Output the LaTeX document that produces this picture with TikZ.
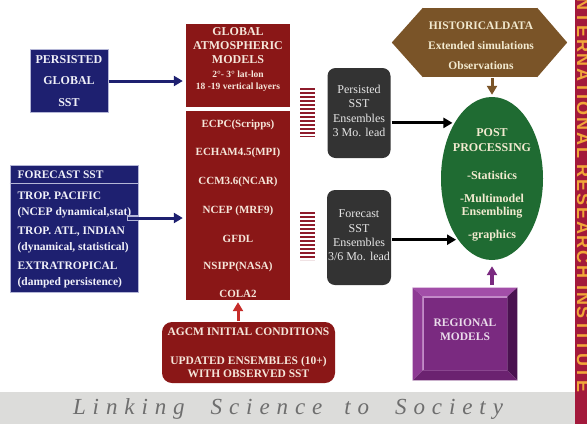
\documentclass[tikz,border=0pt]{standalone}
\usepackage{fontspec}
\setmainfont{Liberation Serif}
\newfontfamily\barfont[LetterSpace=10]{Liberation Sans}
\newfontfamily\tagfont[LetterSpace=30]{Liberation Serif}
\usetikzlibrary{arrows.meta,shapes.geometric}

\definecolor{navyfill}{HTML}{1E2070}
\definecolor{navyedge}{HTML}{B4B6D6}
\definecolor{navytext}{HTML}{F0F0F8}
\definecolor{modelred}{HTML}{8A1717}
\definecolor{redtext}{HTML}{F5E6DA}
\definecolor{hatchred}{HTML}{8E1B2B}
\definecolor{ensgray}{HTML}{333333}
\definecolor{enstext}{HTML}{E6E6E6}
\definecolor{histbrown}{HTML}{7A5428}
\definecolor{postgreen}{HTML}{1F6B32}
\definecolor{cream}{HTML}{F2EAD0}
\definecolor{regpurple}{HTML}{7A2A80}
\definecolor{regedge}{HTML}{C58ACB}
\definecolor{bevtop}{HTML}{A24EA8}
\definecolor{bevleft}{HTML}{8E3A94}
\definecolor{bevright}{HTML}{4A1250}
\definecolor{bevbottom}{HTML}{6B2270}
\definecolor{regtext}{HTML}{EADCEB}
\definecolor{agcmred}{HTML}{C62D2A}
\definecolor{bandgray}{HTML}{DCDCDA}
\definecolor{taggray}{HTML}{6E6E6E}
\definecolor{irired}{HTML}{A3193B}
\definecolor{iriorange}{HTML}{F0A73A}

\begin{document}
\begin{tikzpicture}[x=1pt,y=-1pt,
    navybox/.style={draw=navyedge, line width=1pt, fill=navyfill, inner sep=0pt},
    redbox/.style={fill=modelred, inner sep=0pt},
    modeltxt/.style={text=redtext, font=\fontsize{11}{14}\selectfont\bfseries},
    ensbox/.style={fill=ensgray, rounded corners=8pt, inner sep=1pt, text=enstext, align=center, font=\fontsize{12}{14.3}\selectfont},
    fatarrow/.style={line width=3pt, -{Triangle[length=9pt,width=10pt]}},
    hatch/.style={draw=hatchred, line width=15pt, dash pattern=on 2pt off 2pt}]
      \useasboundingbox (0,0) rectangle (587,424);
      \fill[white] (0,0) rectangle (587,424);
      \fill[bandgray] (0,392) rectangle (575,424);
      \fill[irired] (575,0) rectangle (587,424);

      \node[navybox, minimum width=78, minimum height=63, text=navytext, align=center, font=\fontsize{12}{21.5}\selectfont\bfseries] (pgs) at (69,81) {PERSISTED\\GLOBAL\\SST};

      \node[redbox, minimum width=104, minimum height=83] (gam) at (238,65.5) {};
      \node[modeltxt, align=center, font=\fontsize{12}{14}\selectfont\bfseries] (gamtxt) at (238,60) {GLOBAL\\ATMOSPHERIC\\MODELS\\{\fontsize{9.5}{12}\selectfont 2°- 3° lat-lon}\\[-2pt]{\fontsize{9.5}{12}\selectfont 18 -19 vertical layers}};

      \node[redbox, minimum width=104, minimum height=189] (mdl) at (238,205.5) {};
      \node[modeltxt] (m1) at (238,125) {ECPC(Scripps)};
      \node[modeltxt] (m2) at (238,153) {ECHAM4.5(MPI)};
      \node[modeltxt] (m3) at (238,182) {CCM3.6(NCAR)};
      \node[modeltxt] (m4) at (238,211) {NCEP (MRF9)};
      \node[modeltxt] (m5) at (238,239) {GFDL};
      \node[modeltxt] (m6) at (238,267) {NSIPP(NASA)};
      \node[modeltxt] (m7) at (238,294) {COLA2};

      \node[navybox, minimum width=128, minimum height=127] (fsst) at (74,228.5) {};
      \draw[navyedge, line width=1pt] (fsst.west |- 0,183) -- (fsst.east |- 0,183);
      \node[anchor=west, text=navytext, font=\fontsize{11.5}{14}\selectfont\bfseries] (fhead) at (14,175) {FORECAST SST};
      \node[anchor=west, align=left, text=navytext, font=\fontsize{11.5}{16}\selectfont\bfseries] (fbody) at (14,240) {TROP. PACIFIC\\(NCEP dynamical,stat)\\[3pt]TROP. ATL, INDIAN\\(dynamical, statistical)\\[3pt]EXTRATROPICAL\\(damped persistence)};
      \coordinate (fstart) at (128,218);

      \draw[hatch] (307,88) -- (307,137);
      \draw[hatch] (307,212) -- (307,260);

      \node[ensbox, minimum width=63, minimum height=90] (pens) at (359,113) {Persisted\\SST\\Ensembles\\3 Mo. lead\\[-10pt]};
      \node[ensbox, minimum width=64, minimum height=95] (fens) at (359,237.5) {Forecast\\SST\\Ensembles\\3/6 Mo. lead\\[-10pt]};

      \node[fill=histbrown, minimum width=114, minimum height=69, inner sep=0pt] (hist) at (480,42.5) {};
      \fill[histbrown] (hist.north west) -- ([xshift=-31pt]hist.west) -- (hist.south west) -- cycle;
      \fill[histbrown] (hist.north east) -- ([xshift=30pt]hist.east) -- (hist.south east) -- cycle;
      \node[text=cream, align=center, font=\fontsize{11.5}{20}\selectfont\bfseries] (histtxt) at (481,46) {HISTORICALDATA\\Extended simulations\\Observations};

      \node[ellipse, fill=postgreen, minimum width=102, minimum height=163, inner sep=0pt] (post) at (492,178.5) {};
      \node[text=cream, align=center, font=\fontsize{12}{13}\selectfont\bfseries] (posttxt) at (492,185) {POST\\[2pt]PROCESSING\\[15pt]-Statistics\\[10pt]-Multimodel\\Ensembling\\[10pt]-graphics};

      \node[fill=regpurple, draw=regedge, line width=0.8pt, minimum width=84, minimum height=73, inner sep=0pt, text=regtext, align=center, font=\fontsize{11.5}{14}\selectfont\bfseries] (reg) at (465,333.5) {REGIONAL\\MODELS\\[-6pt]};
      \fill[bevtop] ([shift={(-10pt,9pt)}]reg.north west) -- ([shift={(10pt,9pt)}]reg.north east) -- (reg.north east) -- (reg.north west) -- cycle;
      \fill[bevleft] ([shift={(-10pt,9pt)}]reg.north west) -- (reg.north west) -- (reg.south west) -- ([shift={(-10pt,-10pt)}]reg.south west) -- cycle;
      \fill[bevright] ([shift={(10pt,9pt)}]reg.north east) -- ([shift={(10pt,-10pt)}]reg.south east) -- (reg.south east) -- (reg.north east) -- cycle;
      \fill[bevbottom] ([shift={(-10pt,-10pt)}]reg.south west) -- (reg.south west) -- (reg.south east) -- ([shift={(10pt,-10pt)}]reg.south east) -- cycle;

      \node[fill=modelred, rounded corners=10pt, minimum width=173, minimum height=61, inner sep=0pt, text=redtext, align=center, font=\fontsize{11.5}{13}\selectfont\bfseries] (agcm) at (248.5,352.5) {AGCM INITIAL CONDITIONS\\[16pt]UPDATED ENSEMBLES (10+)\\WITH OBSERVED SST};

      \draw[fatarrow, navyfill, shorten >=3pt] (pgs.east) -- (pgs.east -| gam.west);
      \draw[navyedge, line width=5.5pt, shorten <=-1.5pt] (fstart) -- (fstart -| fsst.east);
      \draw[fatarrow, navyfill, shorten >=3pt] (fstart) -- (fstart -| mdl.west);
      \draw[fatarrow, black, shorten <=1pt, shorten >=2pt] (pens.east |- post.124) -- (post.124);
      \draw[fatarrow, black, shorten <=1pt, shorten >=2pt] (fens.east |- post.241) -- (post.241);
      \draw[fatarrow, histbrown, shorten <=1pt, shorten >=2pt] (hist.south -| post.north) -- (post.north);
      \draw[fatarrow, line width=4pt, regpurple, shorten <=12pt, shorten >=6pt] (reg.north -| post.south) -- (post.south);
      \draw[fatarrow, agcmred, shorten <=1pt, shorten >=2pt] (agcm.north -| mdl.south) -- (mdl.south);

      \node[text=taggray, font=\tagfont\itshape\fontsize{23}{25}\selectfont] (tagline) at (288,409) {Linking\hspace{26pt}Science\hspace{22pt}to\hspace{26pt}Society};
      \node[rotate=-90, anchor=base east, inner sep=0pt, text=iriorange, font=\barfont\bfseries\fontsize{18}{18}\selectfont] (iri) at (577,393) {INTERNATIONAL RESEARCH INSTITUTE};
\end{tikzpicture}
\end{document}
